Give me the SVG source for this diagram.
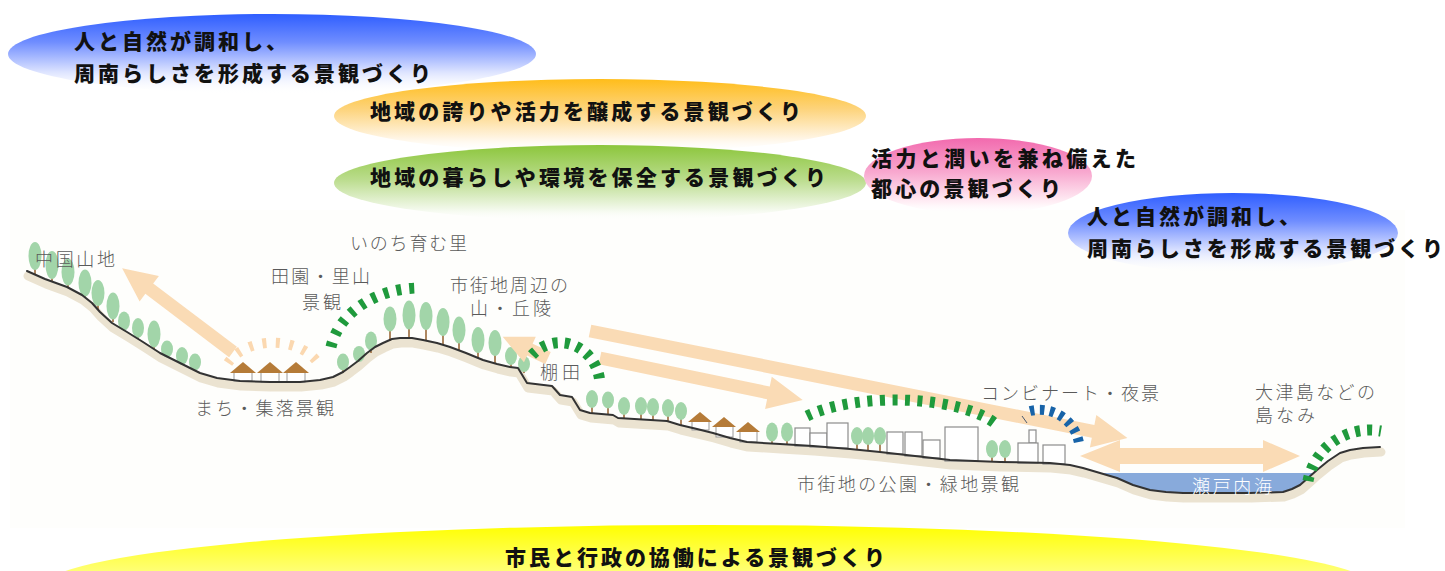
<svg xmlns="http://www.w3.org/2000/svg" width="1445" height="571" viewBox="0 0 1445 571">
  <defs>
    <linearGradient id="gBlue" x1="0" y1="0" x2="0" y2="1">
      <stop offset="0" stop-color="#2f5eff"/>
      <stop offset="0.35" stop-color="#6f8dff"/>
      <stop offset="0.72" stop-color="#dbe2ff"/>
      <stop offset="1" stop-color="#ffffff" stop-opacity="0"/>
    </linearGradient>
    <linearGradient id="gOrange" x1="0" y1="0" x2="0" y2="1">
      <stop offset="0" stop-color="#ffbd1a"/>
      <stop offset="0.4" stop-color="#fdd37a"/>
      <stop offset="0.8" stop-color="#fff5e4"/>
      <stop offset="1" stop-color="#ffffff" stop-opacity="0"/>
    </linearGradient>
    <linearGradient id="gGreen" x1="0" y1="0" x2="0" y2="1">
      <stop offset="0" stop-color="#8cc63c"/>
      <stop offset="0.45" stop-color="#badc8c"/>
      <stop offset="0.85" stop-color="#f3f9ec"/>
      <stop offset="1" stop-color="#ffffff" stop-opacity="0"/>
    </linearGradient>
    <linearGradient id="gPink" x1="0" y1="0" x2="0" y2="1">
      <stop offset="0" stop-color="#f26aae"/>
      <stop offset="0.45" stop-color="#f8a8cf"/>
      <stop offset="0.85" stop-color="#fff0f6"/>
      <stop offset="1" stop-color="#ffffff" stop-opacity="0"/>
    </linearGradient>
    <linearGradient id="gYellow" x1="0" y1="0" x2="0" y2="1">
      <stop offset="0" stop-color="#ffff00"/>
      <stop offset="0.5" stop-color="#ffff9c"/>
      <stop offset="1" stop-color="#ffffee"/>
    </linearGradient>
    <style>
      .title { font-family: "Noto Sans CJK JP", "Noto Sans CJK SC", sans-serif; font-weight: 900; font-size: 21px; fill: #111; }
      .lbl { font-family: "Noto Sans CJK JP", "Noto Sans CJK SC", sans-serif; font-weight: 300; font-size: 18px; fill: #5a5a5a; }
      .lbl.sea { fill: #ffffff; }
      .tree line { stroke: #9a6a3a; stroke-width: 1.6; }
      .tree ellipse { fill: #a2d5a9; }
      .roof { fill: #b57b38; }
      .hbox { fill: #ffffff; stroke: #9a9a9a; stroke-width: 1; }
      .bldg { fill: #ffffff; stroke: #8c8c8c; stroke-width: 1.2; }
      .arrow { fill: #fadbb5; }
      .dash { fill: none; stroke-width: 11; }
      .dash.green { stroke: #1f9a3c; }
      .dash.blue { stroke: #1763a8; stroke-width: 10; }
      .dash.peach { stroke: #fbd8b0; stroke-width: 10; }
    </style>
  </defs>

  <rect x="0" y="0" width="1445" height="571" fill="#ffffff"/>
  <!-- landscape panel -->
  <rect x="10" y="210" width="1395" height="318" fill="#fefefc"/>

  <!-- goal ellipses -->
  <g id="goal-harmony-west">
    <ellipse cx="272" cy="54" rx="264" ry="40" fill="url(#gBlue)"/>
    <text class="title" x="74" y="49" textLength="213" lengthAdjust="spacing">人と自然が調和し、</text>
    <text class="title" x="74" y="81" textLength="357" lengthAdjust="spacing">周南らしさを形成する景観づくり</text>
  </g>
  <g id="goal-pride">
    <ellipse cx="600" cy="116" rx="266" ry="37" fill="url(#gOrange)"/>
    <text class="title" x="370" y="119" textLength="431" lengthAdjust="spacing">地域の誇りや活力を醸成する景観づくり</text>
  </g>
  <g id="goal-living">
    <ellipse cx="600" cy="183" rx="266" ry="38" fill="url(#gGreen)"/>
    <text class="title" x="370" y="185" textLength="456" lengthAdjust="spacing">地域の暮らしや環境を保全する景観づくり</text>
  </g>
  <g id="goal-center">
    <ellipse cx="978" cy="176" rx="114" ry="38" fill="url(#gPink)"/>
    <text class="title" x="871" y="166" textLength="265" lengthAdjust="spacing">活力と潤いを兼ね備えた</text>
    <text class="title" x="871" y="196" textLength="190" lengthAdjust="spacing">都心の景観づくり</text>
  </g>
  <g id="goal-harmony-east">
    <ellipse cx="1233" cy="233" rx="165" ry="40" fill="url(#gBlue)"/>
    <text class="title" x="1087" y="224" textLength="213" lengthAdjust="spacing">人と自然が調和し、</text>
    <text class="title" x="1087" y="256" textLength="356" lengthAdjust="spacing">周南らしさを形成する景観づくり</text>
  </g>

  <!-- ground shadow -->
  <path id="ground-shadow" d="M27,271 L45,279 L67,287 L82,295 L92,303 L100,312 L112,323 L127,332 L143,342 L160,353 L180,363 L200,373 L217,378 L240,381 L270,382 L300,382 L320,380 L333,377 L343,372 L350,367 L358,361 L367,353 L375,347 L383,343 L392,339 L400,338 L412,338 L423,340 L437,343 L450,347 L466,353 L483,360 L497,364 L510,367 L518,368 L527,383 L552,386 L560,395 L572,397 L580,410 L590,413 L613,415 L618,418 L667,421 L680,425 L697,429 L713,433 L730,438 L747,442 L780,444 L813,446 L850,449 L880,452 L915,456 L950,460 L1000,462 L1050,463 L1070,465 L1083,468 L1100,473 L1117,478 L1133,485 L1150,490 L1166,492 L1183,493 L1250,493 L1283,492 L1292,489 L1300,485 L1308,478 L1317,470 L1328,461 L1340,453 L1350,450 L1363,448 L1380,447" transform="translate(1,5)" fill="none" stroke="#ebe3d1" stroke-width="9" stroke-linejoin="round" stroke-linecap="round"/>

  <!-- inland sea -->
  <g id="sea">
    <path d="M1102,473 L1313,473 L1308,478 L1300,485 L1292,489 L1283,492 L1250,493 L1183,493 L1166,492 L1150,490 L1133,485 L1117,478 Z" fill="#88aadb"/>
  </g>

  <!-- trees -->
  <g id="trees">
    <g class="tree" transform="translate(35,0)"><line x1="0" y1="274" x2="0" y2="256"/><ellipse cx="0" cy="256" rx="6.5" ry="14"/></g>
    <g class="tree" transform="translate(52,0)"><line x1="0" y1="281" x2="0" y2="265"/><ellipse cx="0" cy="265" rx="6.5" ry="14"/></g>
    <g class="tree" transform="translate(68,0)"><line x1="0" y1="288" x2="0" y2="272"/><ellipse cx="0" cy="272" rx="6.5" ry="13.5"/></g>
    <g class="tree" transform="translate(85,0)"><line x1="0" y1="297" x2="0" y2="283"/><ellipse cx="0" cy="283" rx="6.5" ry="13.5"/></g>
    <g class="tree" transform="translate(98,0)"><line x1="0" y1="310" x2="0" y2="293"/><ellipse cx="0" cy="293" rx="6.5" ry="13"/></g>
    <g class="tree" transform="translate(113,0)"><line x1="0" y1="322" x2="0" y2="306"/><ellipse cx="0" cy="306" rx="6.5" ry="13.5"/></g>
    <g class="tree" transform="translate(124,0)"><line x1="0" y1="331" x2="0" y2="321"/><ellipse cx="0" cy="321" rx="6" ry="9.5"/></g>
    <g class="tree" transform="translate(138,0)"><line x1="0" y1="339" x2="0" y2="328"/><ellipse cx="0" cy="328" rx="6" ry="10"/></g>
    <g class="tree" transform="translate(154,0)"><line x1="0" y1="349" x2="0" y2="334"/><ellipse cx="0" cy="334" rx="6.5" ry="13.5"/></g>
    <g class="tree" transform="translate(167,0)"><line x1="0" y1="357" x2="0" y2="349"/><ellipse cx="0" cy="349" rx="6" ry="8.5"/></g>
    <g class="tree" transform="translate(182,0)"><line x1="0" y1="364" x2="0" y2="356"/><ellipse cx="0" cy="356" rx="6" ry="9"/></g>
    <g class="tree" transform="translate(195,0)"><line x1="0" y1="370" x2="0" y2="362"/><ellipse cx="0" cy="362" rx="6" ry="8.5"/></g>

    <g class="tree" transform="translate(343,0)"><line x1="0" y1="373" x2="0" y2="362"/><ellipse cx="0" cy="362" rx="6" ry="8.5"/></g>
    <g class="tree" transform="translate(359,0)"><line x1="0" y1="362" x2="0" y2="355"/><ellipse cx="0" cy="354" rx="6" ry="8"/></g>
    <g class="tree" transform="translate(371,0)"><line x1="0" y1="353" x2="0" y2="342"/><ellipse cx="0" cy="341" rx="6" ry="9.5"/></g>
    <g class="tree" transform="translate(390,0)"><line x1="0" y1="341" x2="0" y2="319"/><ellipse cx="0" cy="319" rx="6.5" ry="12.5"/></g>
    <g class="tree" transform="translate(409,0)"><line x1="0" y1="339" x2="0" y2="315"/><ellipse cx="0" cy="315" rx="6.5" ry="14.5"/></g>
    <g class="tree" transform="translate(426,0)"><line x1="0" y1="341" x2="0" y2="316"/><ellipse cx="0" cy="316" rx="6.5" ry="14"/></g>
    <g class="tree" transform="translate(443,0)"><line x1="0" y1="345" x2="0" y2="322"/><ellipse cx="0" cy="322" rx="6.5" ry="14"/></g>
    <g class="tree" transform="translate(459,0)"><line x1="0" y1="351" x2="0" y2="330"/><ellipse cx="0" cy="330" rx="6.5" ry="13.5"/></g>
    <g class="tree" transform="translate(478,0)"><line x1="0" y1="358" x2="0" y2="340"/><ellipse cx="0" cy="340" rx="6.5" ry="13"/></g>
    <g class="tree" transform="translate(495,0)"><line x1="0" y1="363" x2="0" y2="343"/><ellipse cx="0" cy="343" rx="6.5" ry="13"/></g>
    <g class="tree" transform="translate(511,0)"><line x1="0" y1="367" x2="0" y2="356"/><ellipse cx="0" cy="356" rx="6" ry="9"/></g>
    <g class="tree" transform="translate(524,0)"><line x1="0" y1="373" x2="0" y2="365"/><ellipse cx="0" cy="364" rx="6" ry="8"/></g>

    <g class="tree" transform="translate(592,0)"><line x1="0" y1="413" x2="0" y2="399"/><ellipse cx="0" cy="399" rx="6" ry="9"/></g>
    <g class="tree" transform="translate(608,0)"><line x1="0" y1="414" x2="0" y2="400"/><ellipse cx="0" cy="400" rx="6" ry="8.5"/></g>
    <g class="tree" transform="translate(624,0)"><line x1="0" y1="418" x2="0" y2="406"/><ellipse cx="0" cy="406" rx="6" ry="9"/></g>
    <g class="tree" transform="translate(641,0)"><line x1="0" y1="419" x2="0" y2="406"/><ellipse cx="0" cy="406" rx="6" ry="9"/></g>
    <g class="tree" transform="translate(653,0)"><line x1="0" y1="420" x2="0" y2="407"/><ellipse cx="0" cy="407" rx="6" ry="9"/></g>
    <g class="tree" transform="translate(668,0)"><line x1="0" y1="421" x2="0" y2="408"/><ellipse cx="0" cy="408" rx="6" ry="9"/></g>
    <g class="tree" transform="translate(681,0)"><line x1="0" y1="425" x2="0" y2="411"/><ellipse cx="0" cy="411" rx="6" ry="9"/></g>

    <g class="tree" transform="translate(772,0)"><line x1="0" y1="444" x2="0" y2="432"/><ellipse cx="0" cy="432" rx="6" ry="9.5"/></g>
    <g class="tree" transform="translate(787,0)"><line x1="0" y1="445" x2="0" y2="432"/><ellipse cx="0" cy="432" rx="6" ry="9.5"/></g>
    <g class="tree" transform="translate(857,0)"><line x1="0" y1="449" x2="0" y2="436"/><ellipse cx="0" cy="436" rx="6" ry="9"/></g>
    <g class="tree" transform="translate(868,0)"><line x1="0" y1="450" x2="0" y2="436"/><ellipse cx="0" cy="436" rx="6" ry="9"/></g>
    <g class="tree" transform="translate(880,0)"><line x1="0" y1="451" x2="0" y2="436"/><ellipse cx="0" cy="436" rx="6" ry="9"/></g>
    <g class="tree" transform="translate(992,0)"><line x1="0" y1="462" x2="0" y2="449"/><ellipse cx="0" cy="449" rx="6" ry="9"/></g>
    <g class="tree" transform="translate(1005,0)"><line x1="0" y1="462" x2="0" y2="449"/><ellipse cx="0" cy="449" rx="6" ry="9"/></g>
  </g>

  <!-- city blocks -->
  <g id="buildings">
    <rect class="bldg" x="795" y="428" width="15" height="18"/>
    <rect class="bldg" x="810" y="433" width="17" height="14"/>
    <rect class="bldg" x="827" y="423" width="21" height="25"/>
    <rect class="bldg" x="887" y="432" width="16" height="22"/>
    <rect class="bldg" x="905" y="432" width="17" height="24"/>
    <rect class="bldg" x="923" y="440" width="17" height="18"/>
    <rect class="bldg" x="945" y="427" width="33" height="34"/>
    <rect class="bldg" x="1029" y="430" width="7" height="13"/>
    <rect class="bldg" x="1018" y="443" width="20" height="20"/>
    <rect class="bldg" x="1043" y="445" width="22" height="19"/>
  </g>

  <!-- houses -->
  <g id="houses">
    <rect class="hbox" x="234" y="372" width="18" height="9"/>
    <polygon class="roof" points="230,373 243,362 256,373"/>
    <rect class="hbox" x="261" y="372" width="18" height="10"/>
    <polygon class="roof" points="257,373 270,362 283,373"/>
    <rect class="hbox" x="287" y="372" width="18" height="10"/>
    <polygon class="roof" points="283,373 296,362 309,373"/>
    <rect class="hbox" x="692" y="421" width="17" height="9"/>
    <polygon class="roof" points="688,422 700,412 712,422"/>
    <rect class="hbox" x="716" y="426" width="17" height="11"/>
    <polygon class="roof" points="712,427 724,417 736,427"/>
    <rect class="hbox" x="740" y="431" width="17" height="11"/>
    <polygon class="roof" points="736,432 748,422 760,432"/>
  </g>

  <!-- ground line -->
  <path id="ground" d="M27,271 L45,279 L67,287 L82,295 L92,303 L100,312 L112,323 L127,332 L143,342 L160,353 L180,363 L200,373 L217,378 L240,381 L270,382 L300,382 L320,380 L333,377 L343,372 L350,367 L358,361 L367,353 L375,347 L383,343 L392,339 L400,338 L412,338 L423,340 L437,343 L450,347 L466,353 L483,360 L497,364 L510,367 L518,368 L527,383 L552,386 L560,395 L572,397 L580,410 L590,413 L613,415 L618,418 L667,421 L680,425 L697,429 L713,433 L730,438 L747,442 L780,444 L813,446 L850,449 L880,452 L915,456 L950,460 L1000,462 L1050,463 L1070,465 L1083,468 L1100,473 L1117,478 L1133,485 L1150,490 L1166,492 L1183,493 L1250,493 L1283,492 L1292,489 L1300,485 L1308,478 L1317,470 L1328,461 L1340,453 L1350,450 L1363,448 L1380,447" fill="none" stroke="#333333" stroke-width="2" stroke-linejoin="round" stroke-linecap="round"/>

  <!-- view arrows -->
  <g id="connectors">
    <polygon class="arrow" transform="translate(233,352) rotate(-142.9)" points="0,-6.5 105,-6.5 105,-16 139,0 105,16 105,6.5 0,6.5"/>
    <polygon class="arrow" transform="translate(548,358) rotate(-155)" points="0,-6.5 20,-6.5 20,-14 50,0 20,14 20,6.5 0,6.5"/>
    <polygon class="arrow" transform="translate(600,358) rotate(11.7)" points="0,-6.5 172,-6.5 172,-16.5 207,0 172,16.5 172,6.5 0,6.5"/>
    <polygon class="arrow" transform="translate(590,331) rotate(11.27)" points="0,-6.5 513,-6.5 513,-16.5 548,0 513,16.5 513,6.5 0,6.5"/>
    <polygon class="arrow" points="1080,456 1120,440 1120,448 1263,448 1263,440 1300,456 1263,472 1263,464 1120,464 1120,472"/>
  </g>

  <!-- view arcs -->
  <g id="view-arcs">
    <path class="dash peach" d="M228,363 A50,36 0 0 1 318,363" stroke-dasharray="4 9.5"/>
    <path class="dash green" d="M331,347 A90,72 0 0 1 420,288" stroke-dasharray="5 8"/>
    <path class="dash green" d="M532,355 A40,43 0 0 1 600,385" stroke-dasharray="5 7"/>
    <path class="dash green" d="M807,416 A110,40 0 0 1 997,425" stroke-dasharray="5 7.5"/>
    <line x1="1022" y1="416" x2="1027" y2="423" stroke="#4a5a70" stroke-width="1"/>
    <path class="dash blue" d="M1030,411 A40,40 0 0 1 1079,443" stroke-dasharray="4.5 5.5"/>
    <path class="dash green" d="M1308,481 A63,62 0 0 1 1381,431" stroke-dasharray="5 7"/>
  </g>

  <!-- place labels -->
  <g id="labels">
    <text class="lbl" x="35" y="266" textLength="80" lengthAdjust="spacing">中国山地</text>
    <text class="lbl" x="350" y="250" textLength="117" lengthAdjust="spacing">いのち育む里</text>
    <text class="lbl" x="271" y="283" textLength="99" lengthAdjust="spacing">田園・里山</text>
    <text class="lbl" x="302" y="309" textLength="39" lengthAdjust="spacing">景観</text>
    <text class="lbl" x="450" y="292" textLength="118" lengthAdjust="spacing">市街地周辺の</text>
    <text class="lbl" x="470" y="315" textLength="81" lengthAdjust="spacing">山・丘陵</text>
    <text class="lbl" x="540" y="379" textLength="40" lengthAdjust="spacing">棚田</text>
    <text class="lbl" x="195" y="415" textLength="139" lengthAdjust="spacing">まち・集落景観</text>
    <text class="lbl" x="981" y="400" textLength="178" lengthAdjust="spacing">コンビナート・夜景</text>
    <text class="lbl" x="1255" y="399" textLength="120" lengthAdjust="spacing">大津島などの</text>
    <text class="lbl" x="1255" y="422" textLength="60" lengthAdjust="spacing">島なみ</text>
    <text class="lbl" x="797" y="491" textLength="222" lengthAdjust="spacing">市街地の公園・緑地景観</text>
    <text class="lbl sea" x="1192" y="493" textLength="80" lengthAdjust="spacing">瀬戸内海</text>
  </g>

  <!-- base goal -->
  <g id="goal-collaboration">
    <ellipse cx="708" cy="587" rx="665" ry="62" fill="url(#gYellow)"/>
    <text class="title" x="505" y="565" textLength="380" lengthAdjust="spacing">市民と行政の協働による景観づくり</text>
  </g>
</svg>
